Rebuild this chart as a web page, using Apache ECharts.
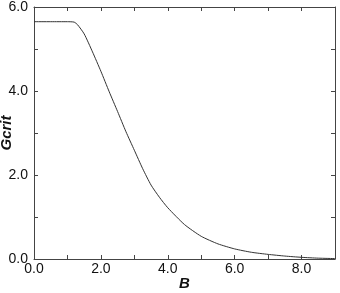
<!DOCTYPE html>
<html><head><meta charset="utf-8">
<script src="https://cdn.jsdelivr.net/npm/echarts@6/dist/echarts.min.js"></script>
<style>html,body{margin:0;padding:0;background:#fff}#c{width:340px;height:293px}</style>
</head><body><div id="c"></div>
<script>
const bValues = [0, 0.5, 1.0, 1.2, 1.3, 1.5, 1.75, 2.0, 2.25, 2.5, 2.75, 3.0, 3.25, 3.5, 3.75, 4.0, 4.5, 5.0, 5.5, 6.0, 6.5, 7.0, 7.5, 8.0, 8.5, 9.0];
const gcrit   = [5.65, 5.65, 5.65, 5.64, 5.58, 5.36, 4.93, 4.47, 3.98, 3.51, 3.03, 2.59, 2.15, 1.76, 1.47, 1.22, 0.82, 0.54, 0.36, 0.24, 0.16, 0.11, 0.07, 0.04, 0.02, 0.01];
const xTicks = [0, 2, 4, 6, 8];
const yTicks = [0, 2, 4, 6];

const axCol = '#444';
const font = 'Liberation Sans, Arial, sans-serif';
function fmt(list){ return v => list.indexOf(Math.round(v*1000)/1000) >= 0 ? v.toFixed(1) : ''; }
function baseAxis(){ return {
  axisLine: {show: true, onZero: false, lineStyle: {color: axCol, width: 1}},
  axisTick: {show: true, inside: true, length: 4, lineStyle: {color: axCol}},
  splitLine: {show: false}
};}
const chart = echarts.init(document.getElementById('c'));
chart.setOption({
  animation: false,
  grid: {left: 34, right: 5, top: 7, bottom: 34, containLabel: false, outerBoundsMode: 'none'},
  xAxis: [
    Object.assign(baseAxis(), {type: 'value', min: 0, max: 9, interval: 1, position: 'bottom',
      name: 'B', nameLocation: 'middle', nameGap: 17, nameMoveOverlap: false,
      nameTextStyle: {fontFamily: font, fontSize: 15, fontWeight: 'bold', fontStyle: 'italic', color: '#111'},
      axisLabel: {formatter: fmt(xTicks), fontFamily: font, fontSize: 14, color: '#111', margin: 3, showMaxLabel: false}}),
    Object.assign(baseAxis(), {type: 'value', min: 0, max: 9, interval: 1, position: 'top', axisLabel: {show: false}})
  ],
  yAxis: [
    Object.assign(baseAxis(), {type: 'value', min: 0, max: 6, interval: 1, position: 'left',
      name: 'Gcrit', nameLocation: 'middle', nameGap: 20, nameRotate: 90, nameMoveOverlap: false,
      nameTextStyle: {fontFamily: font, fontSize: 15, fontWeight: 'bold', fontStyle: 'italic', color: '#111'},
      axisLabel: {formatter: fmt(yTicks), fontFamily: font, fontSize: 14, color: '#111', margin: 6}}),
    Object.assign(baseAxis(), {type: 'value', min: 0, max: 6, interval: 1, position: 'right', axisLabel: {show: false}})
  ],
  series: [{
    type: 'line', data: bValues.map((b, i) => [b, gcrit[i]]),
    showSymbol: false, smooth: 0.2,
    lineStyle: {color: '#333', width: 1}
  }]
});
</script></body></html>
